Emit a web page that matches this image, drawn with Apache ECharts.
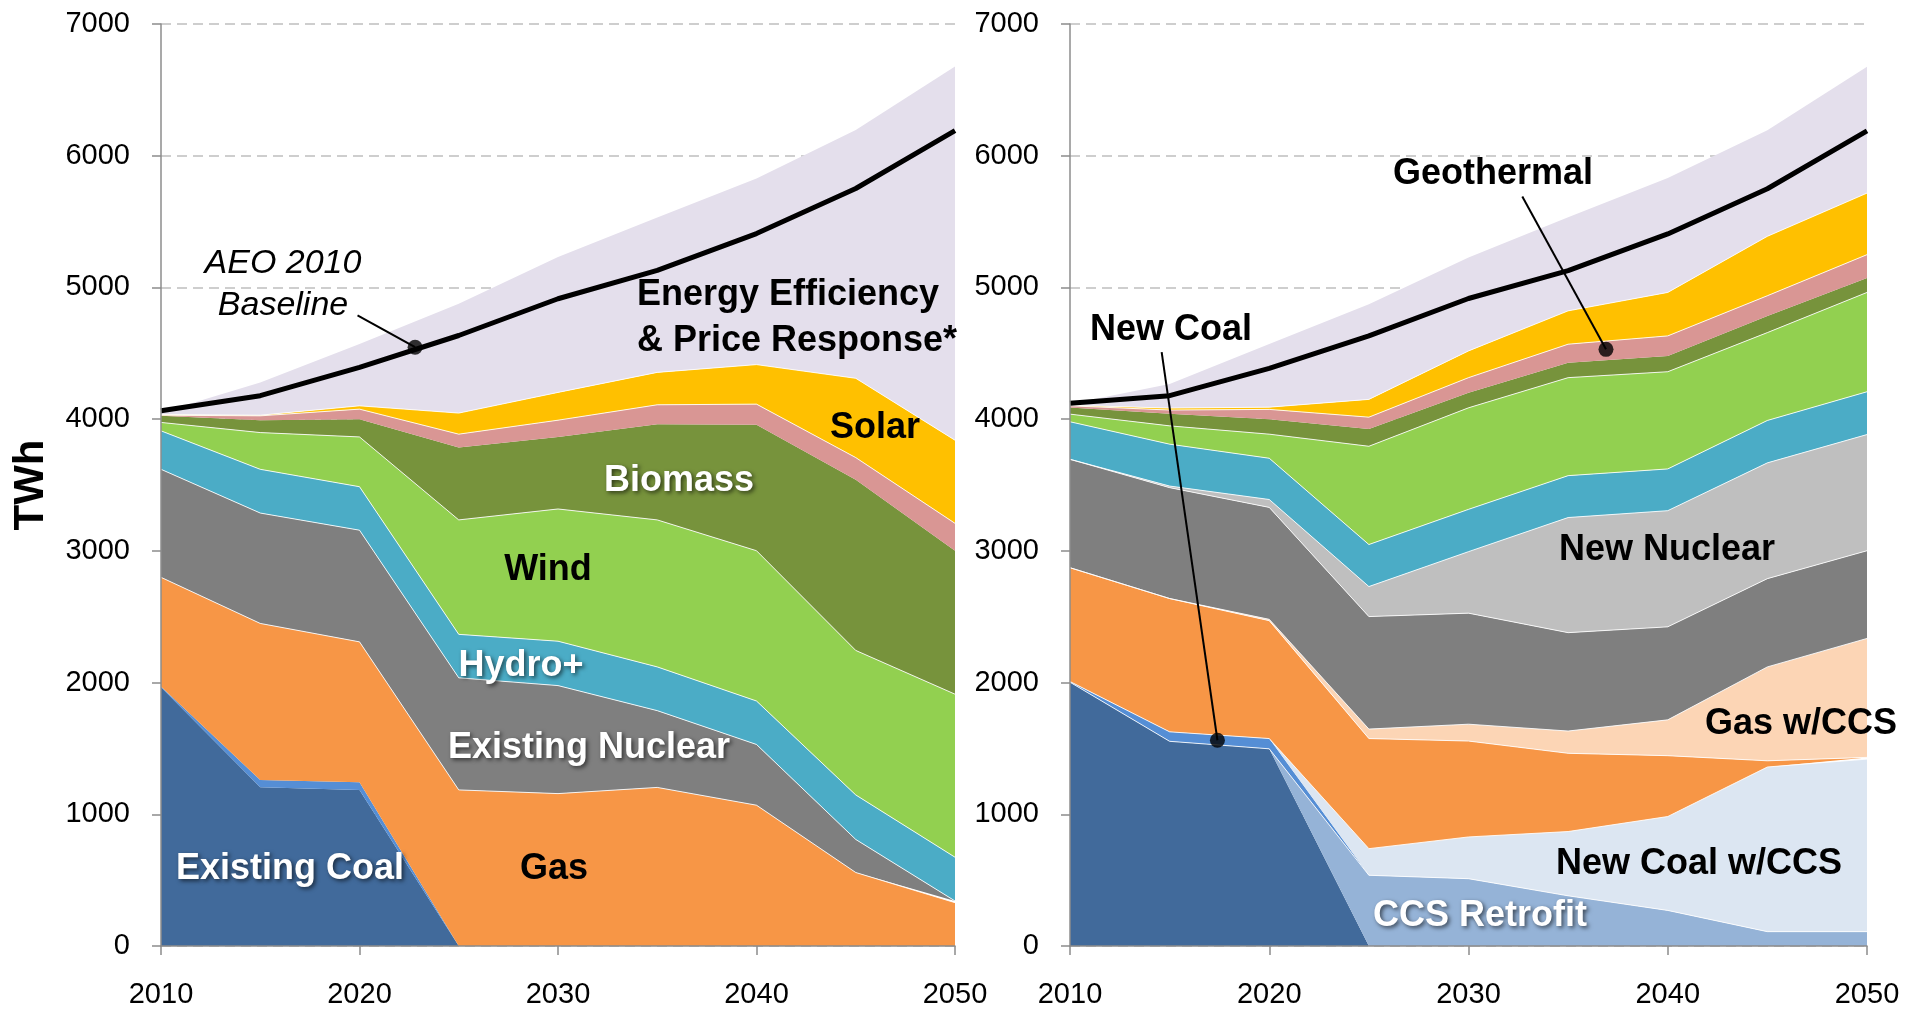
<!DOCTYPE html>
<html>
<head>
<meta charset="utf-8">
<title>Generation by source, TWh</title>
<script src="https://cdn.jsdelivr.net/npm/echarts@6.0.0/dist/echarts.min.js"></script>
<style>
  html, body { margin: 0; padding: 0; background: #fff; }
  #chart { width: 1905px; height: 1014px; }
</style>
</head>
<body>
<div id="chart"></div>
<script>
// years on the x axis (every 5 years, labels every 10)
const years = ['2010', '2015', '2020', '2025', '2030', '2035', '2040', '2045', '2050'];

// left panel - TWh per source (stacked bottom to top)
const leftExistingCoal = [1965, 1205, 1185, 0, 0, 0, 0, 0, 0];
const leftNewCoal = [5, 56, 58, 0, 0, 0, 0, 0, 0];
const leftGas = [829, 1188, 1066, 1185, 1157, 1204, 1069, 558, 329];
const leftNuclear = [820, 838, 848, 851, 820, 583, 461, 251, 13];
const leftHydro = [292, 332, 330, 330, 337, 332, 330, 338, 332];
const leftWind = [64, 279, 378, 869, 1004, 1116, 1141, 1097, 1238];
const leftBiomass = [50, 94, 135, 549, 547, 727, 956, 1296, 1089];
const leftGeothermal = [5, 33, 76, 102, 127, 147, 157, 168, 208];
const leftSolar = [5, 5, 25, 160, 211, 246, 300, 602, 631];
const leftEfficiency = [16, 249, 470, 830, 1028, 1175, 1413, 1885, 2838];
const leftBaseline = [4063, 4178, 4393, 4635, 4914, 5129, 5409, 5751, 6190];

// right panel - TWh per source (stacked bottom to top)
const rightExistingCoal = [2003, 1554, 1497, 0, 0, 0, 0, 0, 0];
const rightCcsRetrofit = [0, 0, 0, 537, 511, 381, 270, 109, 109];
const rightNewCoal = [5, 72, 78, 0, 0, 0, 0, 0, 0];
const rightNewCoalCcs = [0, 0, 0, 202, 317, 488, 713, 1250, 1310];
const rightGas = [864, 1012, 895, 836, 728, 594, 462, 47, 13];
const rightGasCcs = [0, 0, 10, 72, 128, 169, 272, 713, 903];
const rightNuclear = [823, 842, 850, 854, 843, 747, 706, 670, 666];
const rightNewNuclear = [0, 12, 60, 228, 467, 874, 882, 879, 882];
const rightHydro = [285, 318, 313, 319, 321, 318, 317, 322, 325];
const rightWind = [58, 139, 183, 746, 771, 744, 738, 667, 754];
const rightBiomass = [51, 92, 114, 132, 114, 114, 120, 127, 109];
const rightGeothermal = [12, 28, 74, 89, 115, 140, 152, 153, 178];
const rightSolar = [4, 15, 17, 135, 203, 253, 330, 451, 467];
const rightEfficiency = [10, 182, 480, 723, 710, 711, 868, 805, 959];
const rightBaseline = [4120, 4178, 4385, 4632, 4916, 5127, 5406, 5749, 6188];

// callout pointers: [year, TWh] from label to dot
const baselineCallout = [[2019.9, 4787], [2022.8, 4546]];
const newCoalCallout = [[2014.6, 4508], [2017.4, 1562]];
const geothermalCallout = [[2032.7, 5690], [2036.9, 4530]];

const FONT = '"Liberation Sans", Arial, sans-serif';

const chart = echarts.init(document.getElementById('chart'), null, { renderer: 'canvas' });

function area(name, values, color, side, edge) {
  return {
    name: name,
    type: 'line',
    stack: side === 0 ? 'left' : 'right',
    xAxisIndex: side,
    yAxisIndex: side,
    data: values,
    symbol: 'none',
    silent: true,
    lineStyle: { width: edge ? 1 : 0, color: 'rgba(255,255,255,0.85)' },
    areaStyle: { color: color, opacity: 1 },
    z: 2
  };
}

function baseline(values, side) {
  return {
    name: 'AEO 2010 Baseline',
    type: 'line',
    xAxisIndex: side,
    yAxisIndex: side,
    data: values,
    symbol: 'none',
    silent: true,
    lineStyle: { width: 5, color: '#000' },
    z: 4
  };
}

function callout(points, side) {
  return [{
    type: 'line',
    xAxisIndex: side + 2,
    yAxisIndex: side,
    data: points,
    symbol: 'none',
    silent: true,
    lineStyle: { width: 2, color: '#000' },
    z: 5
  }, {
    type: 'scatter',
    xAxisIndex: side + 2,
    yAxisIndex: side,
    data: [points[1]],
    symbolSize: 15,
    itemStyle: { color: '#000' },
    silent: true,
    z: 6
  }];
}

function label(text, x, y, white, extra) {
  const style = {
    text: text,
    x: x,
    y: y,
    font: 'bold 36px ' + FONT,
    fill: white ? '#fff' : '#000',
    align: 'center',
    verticalAlign: 'middle'
  };
  if (white) {
    style.textShadowColor = 'rgba(0,0,0,0.6)';
    style.textShadowBlur = 4;
    style.textShadowOffsetX = 2;
    style.textShadowOffsetY = 2;
  }
  return { type: 'text', z: 100, style: Object.assign(style, extra || {}) };
}

function catAxis(grid) {
  return {
    type: 'category',
    gridIndex: grid,
    data: years,
    boundaryGap: false,
    z: 5,
    axisLine: { lineStyle: { color: '#8c8c8c', width: 1.5 } },
    axisTick: { interval: 1, length: 9, lineStyle: { color: '#8c8c8c', width: 1.5 } },
    axisLabel: { interval: 1, margin: 34, color: '#000', fontSize: 29, fontFamily: FONT },
    splitLine: { show: false }
  };
}

function yearAxis(grid) {
  return { type: 'value', gridIndex: grid, min: 2010, max: 2050, show: false };
}

function valAxis(grid) {
  return {
    type: 'value',
    gridIndex: grid,
    min: 0,
    max: 7000,
    interval: 1000,
    z: 5,
    axisLine: { show: true, lineStyle: { color: '#8c8c8c', width: 1.5 } },
    axisTick: { show: true, length: 9, lineStyle: { color: '#8c8c8c', width: 1.5 } },
    axisLabel: {
      margin: 31, color: '#000', fontSize: 29, fontFamily: FONT,
      formatter: function (v) { return String(v); }
    },
    splitLine: { show: false }
  };
}

// separate axis just for the dashed grid lines, kept under the areas
function gridLineAxis(grid) {
  return {
    type: 'value',
    gridIndex: grid,
    min: 0,
    max: 7000,
    interval: 1000,
    z: 0,
    axisLine: { show: false },
    axisTick: { show: false },
    axisLabel: { show: false },
    splitLine: { show: true, lineStyle: { color: '#bfbfbf', width: 1.5, type: [10, 6] } }
  };
}

const series = [
  area('Existing Coal', leftExistingCoal, '#416a9b', 0, false),
  area('New Coal', leftNewCoal, '#558ed5', 0, false),
  area('Gas', leftGas, '#f79646', 0, true),
  area('Existing Nuclear', leftNuclear, '#7f7f7f', 0, true),
  area('Hydro+', leftHydro, '#4bacc6', 0, true),
  area('Wind', leftWind, '#92d050', 0, true),
  area('Biomass', leftBiomass, '#77933c', 0, false),
  area('Geothermal', leftGeothermal, '#d99694', 0, true),
  area('Solar', leftSolar, '#ffc000', 0, true),
  area('Energy Efficiency & Price Response', leftEfficiency, '#e4dfec', 0, false),
  baseline(leftBaseline, 0),

  area('Existing Coal', rightExistingCoal, '#416a9b', 1, false),
  area('CCS Retrofit', rightCcsRetrofit, '#95b3d7', 1, true),
  area('New Coal', rightNewCoal, '#558ed5', 1, false),
  area('New Coal w/CCS', rightNewCoalCcs, '#dce6f2', 1, true),
  area('Gas', rightGas, '#f79646', 1, true),
  area('Gas w/CCS', rightGasCcs, '#fcd5b5', 1, true),
  area('Existing Nuclear', rightNuclear, '#7f7f7f', 1, true),
  area('New Nuclear', rightNewNuclear, '#bfbfbf', 1, true),
  area('Hydro+', rightHydro, '#4bacc6', 1, true),
  area('Wind', rightWind, '#92d050', 1, true),
  area('Biomass', rightBiomass, '#77933c', 1, false),
  area('Geothermal', rightGeothermal, '#d99694', 1, true),
  area('Solar', rightSolar, '#ffc000', 1, true),
  area('Energy Efficiency & Price Response', rightEfficiency, '#e4dfec', 1, false),
  baseline(rightBaseline, 1)
].concat(callout(baselineCallout, 0), callout(newCoalCallout, 1), callout(geothermalCallout, 1));

chart.setOption({
  animation: false,
  backgroundColor: '#fff',
  grid: [
    { left: 161, top: 24, width: 794, height: 922 },
    { left: 1070, top: 24, width: 797, height: 922 }
  ],
  xAxis: [catAxis(0), catAxis(1), yearAxis(0), yearAxis(1)],
  yAxis: [valAxis(0), valAxis(1), gridLineAxis(0), gridLineAxis(1)],
  series: series,
  graphic: [
    {
      type: 'text', z: 100, x: 31, y: 485, rotation: Math.PI / 2,
      style: { text: 'TWh', font: 'bold 42px ' + FONT, fill: '#000', align: 'center', verticalAlign: 'middle' }
    },
    label('AEO 2010', 283, 264, false, { font: 'italic 34px ' + FONT }),
    label('Baseline', 283, 306, false, { font: 'italic 34px ' + FONT }),
    label('Energy Efficiency', 637, 295, false, { align: 'left' }),
    label('& Price Response*', 637, 341, false, { align: 'left' }),
    label('Solar', 875, 428, false),
    label('Biomass', 679, 481, true),
    label('Wind', 548, 570, false),
    label('Hydro+', 521, 666, true),
    label('Existing Nuclear', 589, 748, true),
    label('Gas', 554, 869, false),
    label('Existing Coal', 290, 869, true),

    label('New Coal', 1171, 330, false),
    label('Geothermal', 1493, 174, false),
    label('New Nuclear', 1667, 550, false),
    label('Gas w/CCS', 1801, 724, false),
    label('New Coal w/CCS', 1699, 864, false),
    label('CCS Retrofit', 1480, 916, true)
  ]
});
</script>
</body>
</html>
